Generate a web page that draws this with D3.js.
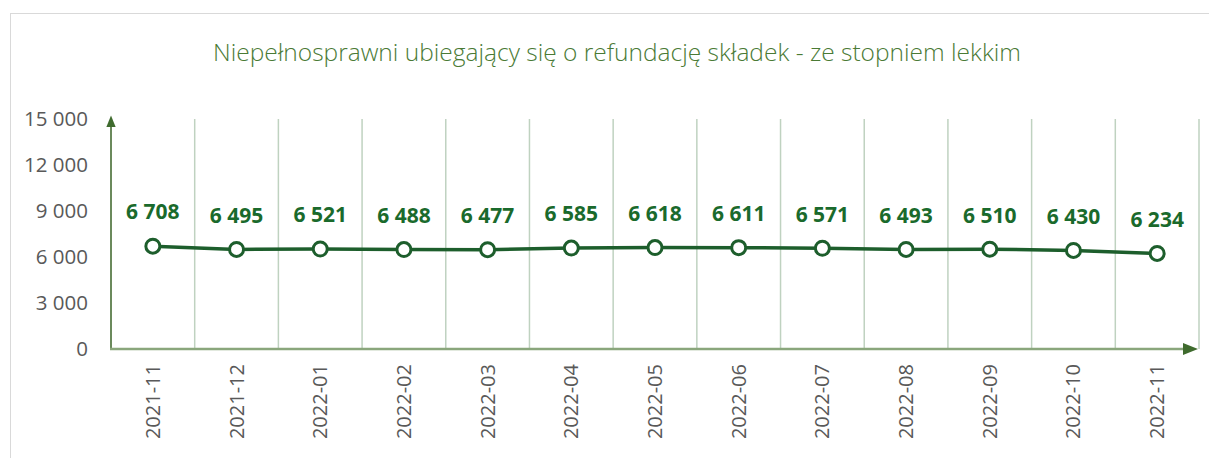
<!DOCTYPE html>
<html>
<head>
<meta charset="utf-8">
<script src="https://cdn.jsdelivr.net/npm/d3@7"></script>
<style>
  body { margin: 0; background: #fff; }
  svg { display: block; }
</style>
</head>
<body>
<div id="chart"></div>
<script>
var months = ["2021-11", "2021-12", "2022-01", "2022-02", "2022-03", "2022-04", "2022-05",
  "2022-06", "2022-07", "2022-08", "2022-09", "2022-10", "2022-11"];
var values = [6708, 6495, 6521, 6488, 6477, 6585, 6618, 6611, 6571, 6493, 6510, 6430, 6234];
var yTicks = [0, 3000, 6000, 9000, 12000, 15000];

var width = 1209, height = 458;
var fmt = function(v) { return d3.format(",")(v).replace(/,/g, " "); };

var svg = d3.select("#chart").append("svg")
  .attr("width", width)
  .attr("height", height);

// frame
svg.append("rect")
  .attr("x", 10.5).attr("y", 13.5)
  .attr("width", width).attr("height", height)
  .attr("fill", "none").attr("stroke", "#d9d9d9");

var x = d3.scaleBand().domain(months).range([111, 1199]);
var y = d3.scaleLinear().domain([0, 15000]).range([349, 119]);

var defs = svg.append("defs");
defs.append("marker")
  .attr("id", "arrow")
  .attr("viewBox", "0 0 10 10")
  .attr("refX", 2).attr("refY", 5)
  .attr("markerWidth", 6).attr("markerHeight", 6)
  .attr("orient", "auto")
  .append("path").attr("d", "M0,1 L10,5 L0,9 Z").attr("fill", "#3f6b2e");

svg.append("text")
  .attr("x", 617).attr("y", 61)
  .attr("text-anchor", "middle")
  .attr("font-family", "Open Sans, sans-serif")
  .attr("font-weight", 300)
  .attr("font-size", 24.5)
  .attr("fill", "#4a7a35")
  .text("Niepełnosprawni ubiegający się o refundację składek - ze stopniem lekkim");

// vertical gridlines at band boundaries
svg.append("g").selectAll("line")
  .data(months)
  .join("line")
  .attr("x1", function(d) { return x(d) + x.bandwidth(); })
  .attr("x2", function(d) { return x(d) + x.bandwidth(); })
  .attr("y1", y(15000)).attr("y2", y(0))
  .attr("stroke", "#bfd2c0").attr("stroke-width", 1.5);

// y tick labels
svg.append("g").selectAll("text")
  .data(yTicks)
  .join("text")
  .attr("x", 88).attr("y", function(d) { return y(d); })
  .attr("dy", "0.35em")
  .attr("text-anchor", "end")
  .attr("font-family", "Open Sans, sans-serif")
  .attr("font-size", 20.5)
  .attr("fill", "#595959")
  .text(fmt);

// x tick labels
svg.append("g").selectAll("text")
  .data(months)
  .join("text")
  .attr("transform", function(d) {
    return "translate(" + (x(d) + x.bandwidth() / 2) + ",364) rotate(-90)";
  })
  .attr("dy", "0.35em")
  .attr("text-anchor", "end")
  .attr("font-family", "Open Sans, sans-serif")
  .attr("font-size", 20)
  .attr("fill", "#595959")
  .text(function(d) { return d; });

// axes with arrows
svg.append("line")
  .attr("x1", 111).attr("x2", 111)
  .attr("y1", y(0) + 1).attr("y2", y(15000) + 6)
  .attr("stroke", "#6b8a5c").attr("stroke-width", 2)
  .attr("marker-end", "url(#arrow)");
svg.append("line")
  .attr("x1", 110).attr("x2", 1186)
  .attr("y1", y(0)).attr("y2", y(0))
  .attr("stroke", "#8aa67c").attr("stroke-width", 2.5)
  .attr("marker-end", "url(#arrow)");

// series line
var cx = function(d, i) { return x(months[i]) + x.bandwidth() / 2; };
var line = d3.line()
  .x(cx)
  .y(function(d) { return y(d); });

svg.append("path")
  .datum(values)
  .attr("d", line)
  .attr("fill", "none")
  .attr("stroke", "#1d5e2c")
  .attr("stroke-width", 3.5);

svg.append("g").selectAll("circle")
  .data(values)
  .join("circle")
  .attr("cx", cx)
  .attr("cy", function(d) { return y(d); })
  .attr("r", 7)
  .attr("fill", "#fff")
  .attr("stroke", "#1d5e2c")
  .attr("stroke-width", 3);

// value labels
svg.append("g").selectAll("text")
  .data(values)
  .join("text")
  .attr("x", cx)
  .attr("y", function(d) { return y(d) - 34; })
  .attr("dy", "0.35em")
  .attr("text-anchor", "middle")
  .attr("font-family", "Open Sans, sans-serif")
  .attr("font-weight", 700)
  .attr("font-size", 21)
  .attr("fill", "#1a6a2c")
  .text(fmt);
</script>
</body>
</html>
